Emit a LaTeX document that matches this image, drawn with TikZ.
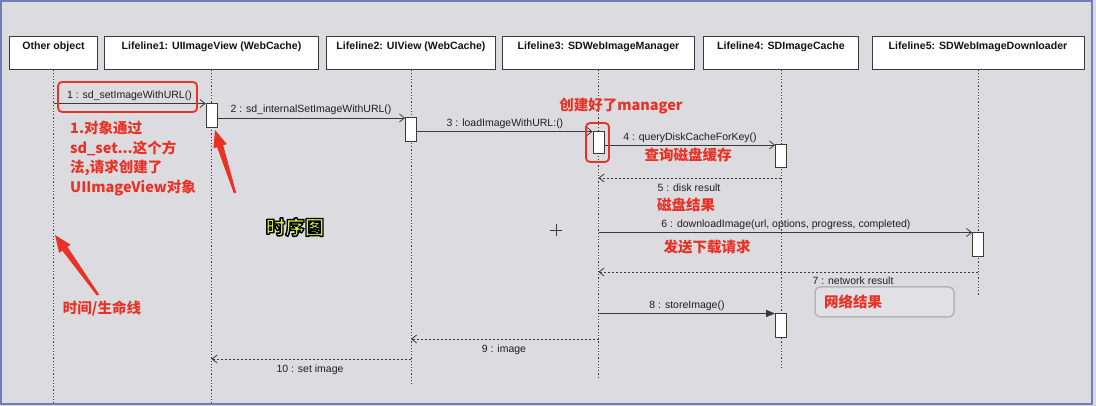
\documentclass[tikz,border=0pt]{standalone}
\usepackage{fontspec}
\setmainfont{Liberation Sans}
\newfontfamily\cjk{Noto Sans CJK SC}
\usetikzlibrary{arrows.meta,calc}
\definecolor{bggray}{RGB}{220,220,224}
\definecolor{frameblue}{RGB}{112,126,186}
\definecolor{linec}{RGB}{58,58,60}
\definecolor{annored}{RGB}{232,50,38}
\definecolor{seqgreen}{RGB}{206,244,58}
\definecolor{boxgray}{RGB}{182,182,186}
\tikzset{
  headbox/.style={draw=linec, fill=white, line width=0.8pt, minimum height=33pt, inner sep=0pt},
  headtxt/.style={font=\fontsize{10.6}{12}\selectfont\bfseries, text=black!92, inner sep=0pt},
  lifeline/.style={draw=linec, line width=1pt, dash pattern=on 1.3pt off 1.9pt},
  actbox/.style={draw=linec, fill=white, line width=0.8pt, minimum width=11pt, inner sep=0pt, anchor=north},
  call/.style={draw=linec, line width=0.8pt, -{Straight Barb[length=5pt,width=8pt]}},
  reply/.style={call, dash pattern=on 2pt off 2pt},
  syncall/.style={draw=linec, line width=0.8pt, -{Triangle[length=9pt,width=7pt]}},
  msgtxt/.style={font=\fontsize{10.5}{12}\selectfont, text=black!88, inner sep=0pt},
  annot/.style={font=\cjk\bfseries\fontsize{14.5}{17}\selectfont, text=annored, inner sep=0pt},
  redframe/.style={draw=annored, line width=1.8pt, rounded corners=4pt},
  redarrow/.style={fill=annored}
}
\begin{document}
\begin{tikzpicture}[x=1pt,y=-1pt]
\useasboundingbox (0,0) rectangle (1096,406);
\fill[bggray] (0,0) rectangle (1096,406);
\draw[frameblue, line width=2pt] (1,1) rectangle (1092,404);

% headers
\node[headbox, minimum width=88pt]  (h0) at (53.5,52.5) {};
\node[headbox, minimum width=214pt] (h1) at (211.5,52.5) {};
\node[headbox, minimum width=169pt] (h2) at (411,52.5) {};
\node[headbox, minimum width=192pt] (h3) at (598.5,52.5) {};
\node[headbox, minimum width=155pt] (h4) at (781,52.5) {};
\node[headbox, minimum width=212pt] (h5) at (978,52.5) {};
\node[headtxt] (n0) at ($(h0.north)+(0,11)$) {Other object};
\node[headtxt] (n1) at ($(h1.north)+(0,11)$) {Lifeline1: UIImageView (WebCache)};
\node[headtxt] (n2) at ($(h2.north)+(0,11)$) {Lifeline2: UIView (WebCache)};
\node[headtxt] (n3) at ($(h3.north)+(0,11)$) {Lifeline3: SDWebImageManager};
\node[headtxt] (n4) at ($(h4.north)+(0,11)$) {Lifeline4: SDImageCache};
\node[headtxt] (n5) at ($(h5.north)+(0,11)$) {Lifeline5: SDWebImageDownloader};

% lifelines
\coordinate (ll0) at (h0.south); \coordinate (ll1) at (h1.south);
\coordinate (ll2) at (h2.south); \coordinate (ll3) at (h3.south);
\coordinate (ll4) at (h4.south); \coordinate (ll5) at (h5.south);
\coordinate (e0) at (ll0 |- 0,404); \coordinate (e1) at (ll1 |- 0,404);
\coordinate (e2) at (ll2 |- 0,384); \coordinate (e3) at (ll3 |- 0,379);
\coordinate (e4) at (ll4 |- 0,370); \coordinate (e5) at (ll5 |- 0,295);
\draw[lifeline] (ll0) -- (e0);
\draw[lifeline] (ll1) -- (e1);
\draw[lifeline] (ll2) -- (e2);
\draw[lifeline] (ll3) -- (e3);
\draw[lifeline] (ll4) -- (e4);
\draw[lifeline] (ll5) -- (e5);

% activation boxes
\node[actbox, minimum height=24pt] (a1) at (ll1 |- 0,103) {};
\node[actbox, minimum height=24pt] (a2) at (ll2 |- 0,117) {};
\node[actbox, minimum height=22pt] (a3) at (ll3 |- 0,131) {};
\node[actbox, minimum height=23pt] (a4) at (ll4 |- 0,144) {};
\node[actbox, minimum height=24pt] (a5) at (ll5 |- 0,232) {};
\node[actbox, minimum height=24pt] (a6) at (ll4 |- 0,313) {};

% message levels
\coordinate (y1) at (0,103.5); \coordinate (y2) at (0,118);
\coordinate (y3) at (0,131.5); \coordinate (y4) at (0,145);
\coordinate (y5) at (0,178);   \coordinate (y6) at (0,232.5);
\coordinate (y7) at (0,272);   \coordinate (y8) at (0,313.5);
\coordinate (y9) at (0,339);   \coordinate (y10) at (0,359);

\draw[call] (ll0 |- y1) -- (a1.west |- y1);
\draw[call] (a1.east |- y2) -- (a2.west |- y2);
\draw[call] (a2.east |- y3) -- (a3.west |- y3);
\draw[call] (a3.east |- y4) -- (a4.west |- y4);
\draw[reply] (ll4 |- y5) -- (ll3 |- y5);
\draw[call] (ll3 |- y6) -- (a5.west |- y6);
\draw[reply] (ll5 |- y7) -- (ll3 |- y7);
\draw[syncall] (ll3 |- y8) -- (a6.west |- y8);
\draw[reply] (ll3 |- y9) -- (ll2 |- y9);
\draw[reply] (ll2 |- y10) -- (ll1 |- y10);

% message labels
\node[msgtxt] (t1) at (129.5,96) {1 : sd\_setImageWithURL()};
\node[msgtxt] (t2) at (311,109.5) {2 : sd\_internalSetImageWithURL()};
\node[msgtxt] (t3) at (505,124) {3 : loadImageWithURL:()};
\node[msgtxt] (t4) at (690,138) {4 : queryDiskCacheForKey()};
\node[msgtxt] (t5) at (689,188) {5 : disk result};
\node[msgtxt] (t6) at (786,224.5) {6 : downloadImage(url, options, progress, completed)};
\node[msgtxt] (t7) at (853,281) {7 : network result};
\node[msgtxt] (t8) at (687,306) {8 : storeImage()};
\node[msgtxt] (t9) at (504,350) {9 : image};
\node[msgtxt] (t10) at (310,369.5) {10 : set image};

% red frames
\draw[redframe] (58,82) rectangle (197,112);
\draw[redframe] (586,123) rectangle (609,162);

% grey box
\node[draw=boxgray, fill=bggray!85!white, line width=1.5pt, rounded corners=5pt, minimum width=139pt, minimum height=30pt, inner sep=0pt] (netbox) at (884.5,302) {};

% annotations
\node[annot, anchor=west] (r1) at (70,128) {1.对象通过};
\node[annot, anchor=west] (r2) at (70,148) {sd\_set...这个方};
\node[annot, anchor=west] (r3) at (70,168) {法,请求创建了};
\node[annot, anchor=west] (r4) at (70,188) {UIImageView对象};
\node[annot] (r5) at (621,106) {创建好了manager};
\node[annot] (r6) at (688,155) {查询磁盘缓存};
\node[annot] (r7) at (686,205) {磁盘结果};
\node[annot] (r8) at (707,247) {发送下载请求};
\node[annot] (r9) at (853,302) {网络结果};
\node[annot] (r10) at (102,308) {时间/生命线};

% red tapered arrows
\coordinate (ta) at (235,193); \coordinate (ha) at (215,130);
\coordinate (ba) at ($(ha)!17pt!(ta)$);
\fill[redarrow] ($(ta)!1.2pt!90:(ha)$) -- ($(ba)!3.2pt!-90:(ta)$) -- ($(ba)!7pt!-90:(ta)$) -- (ha)
  -- ($(ba)!7pt!90:(ta)$) -- ($(ba)!3.2pt!90:(ta)$) -- ($(ta)!1.2pt!-90:(ha)$) -- cycle;
\coordinate (tb) at (98,295); \coordinate (hb) at (55,235);
\coordinate (bb) at ($(hb)!17pt!(tb)$);
\fill[redarrow] ($(tb)!1.2pt!90:(hb)$) -- ($(bb)!3.2pt!-90:(tb)$) -- ($(bb)!7pt!-90:(tb)$) -- (hb)
  -- ($(bb)!7pt!90:(tb)$) -- ($(bb)!3.2pt!90:(tb)$) -- ($(tb)!1.2pt!-90:(hb)$) -- cycle;

% cursor cross
\coordinate (cur) at (556,230);
\draw[linec, line width=0.6pt] ($(cur)+(-6,0)$) -- ($(cur)+(6,0)$);
\draw[linec, line width=0.6pt] ($(cur)+(0,-6)$) -- ($(cur)+(0,6)$);

% title
\node[inner sep=0pt, text=seqgreen, font=\cjk\bfseries\fontsize{19.5}{22}\selectfont] (seq) at (295,227)
  {\special{pdf:literal direct q 2 Tr 1.4 w 1 j 0 0 0 RG}时序图\special{pdf:literal direct Q}};
\end{tikzpicture}
\end{document}
